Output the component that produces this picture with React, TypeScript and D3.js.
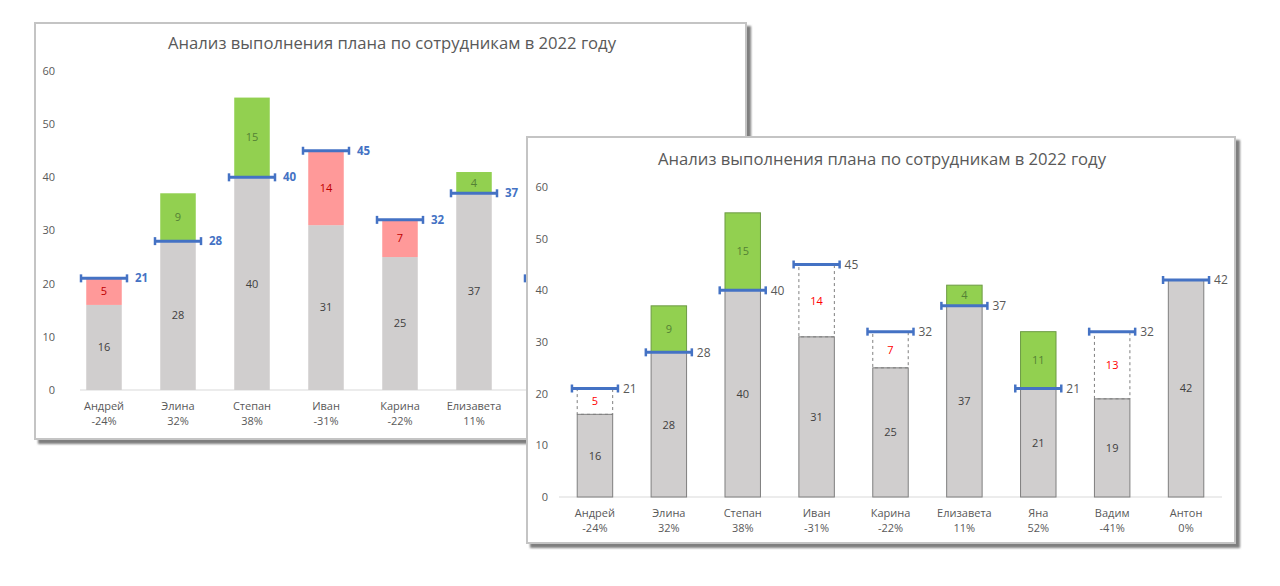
import React from 'react';
import * as d3 from 'd3';

const names = ['Андрей', 'Элина', 'Степан', 'Иван', 'Карина', 'Елизавета', 'Яна', 'Вадим', 'Антон'];
const fact = [16, 37, 55, 31, 25, 41, 32, 19, 42];
const plan = [21, 28, 40, 45, 32, 37, 21, 32, 42];
const yTicks = [0, 10, 20, 30, 40, 50, 60];
const title = 'Анализ выполнения плана по сотрудникам в 2022 году';

const FONT = "'Open Sans', 'Noto Sans', sans-serif";

interface PanelCfg {
  x: number;
  y: number;
  w: number;
  h: number;
  titleX: number;
  titleY: number;
  titleW: number;
  tickX: number;
  y0: number;
  y60: number;
  xLeft: number;
  xRight: number;
  axisX0: number;
  axisX1: number;
  catY: number;
  front: boolean;
  // texts starting right of this are covered by the other panel, skip them
  textLimit: number;
}

const rows = names.map((n, i) => ({
  name: n,
  fact: fact[i],
  plan: plan[i],
  pct: Math.round(((fact[i] - plan[i]) / plan[i]) * 100)
}));

const Panel: React.FC<{ c: PanelCfg }> = ({ c }) => {
  const y = d3.scaleLinear().domain([0, 60]).range([c.y0, c.y60]);
  const x = d3
    .scaleBand<string>()
    .domain(names)
    .range([c.xLeft, c.xRight])
    .paddingInner(0.52)
    .paddingOuter(0.26);
  const bw = x.bandwidth();
  const half = 23;

  return (
    <g>
      {/* panel box with shadow */}
      <rect
        x={c.x}
        y={c.y}
        width={c.w}
        height={c.h}
        fill="#ffffff"
        stroke="#c4c4c4"
        strokeWidth={2}
        filter="url(#shadow)"
      />
      <text
        x={c.titleX}
        y={c.titleY}
        textAnchor="middle"
        fontSize={17}
        fill="#595959"
        textLength={c.titleW}
        lengthAdjust="spacingAndGlyphs"
      >
        {title}
      </text>

      {/* y ticks */}
      {yTicks.map(t => (
        <text
          key={t}
          x={c.tickX}
          y={y(t)}
          dy="0.35em"
          textAnchor="end"
          fontSize={11}
          fill="#595959"
        >
          {t}
        </text>
      ))}

      {/* baseline */}
      <line x1={c.axisX0} x2={c.axisX1} y1={c.y0} y2={c.y0} stroke="#d9d9d9" strokeWidth={1} />

      {rows.map(d => {
        const cx = (x(d.name) as number) + bw / 2;
        const x0 = x(d.name) as number;
        const base = Math.min(d.fact, d.plan);
        const over = d.fact > d.plan;
        const under = d.fact < d.plan;
        const showText = cx < c.textLimit;
        const planX = cx + half + (c.front ? 5 : 8);
        return (
          <g key={d.name}>
            <rect
              x={x0}
              y={y(base)}
              width={bw}
              height={y(0) - y(base)}
              fill="#d0cece"
              stroke={c.front ? '#7f7f7f' : 'none'}
              strokeWidth={1}
            />
            {over && (
              <rect
                x={x0}
                y={y(d.fact)}
                width={bw}
                height={y(d.plan) - y(d.fact)}
                fill="#92d050"
                stroke={c.front ? '#6d9a45' : 'none'}
                strokeWidth={1}
              />
            )}
            {under &&
              (c.front ? (
                <rect
                  x={x0}
                  y={y(d.plan)}
                  width={bw}
                  height={y(d.fact) - y(d.plan)}
                  fill="none"
                  stroke="#7f7f7f"
                  strokeWidth={1}
                  strokeDasharray="3,3"
                />
              ) : (
                <rect
                  x={x0}
                  y={y(d.plan)}
                  width={bw}
                  height={y(d.fact) - y(d.plan)}
                  fill="#ff9999"
                />
              ))}

            {showText && (
              <text
                x={cx}
                y={y(base / 2)}
                dy="0.35em"
                textAnchor="middle"
                fontSize={11}
                fill="#404040"
              >
                {base}
              </text>
            )}

            {showText && d.fact !== d.plan && (
              <text
                x={cx}
                y={y((d.fact + d.plan) / 2)}
                dy="0.35em"
                textAnchor="middle"
                fontSize={11}
                fill={over ? '#548235' : c.front ? '#ff0000' : '#c00000'}
              >
                {Math.abs(d.fact - d.plan)}
              </text>
            )}

            {/* plan marker */}
            <line
              x1={cx - half}
              x2={cx + half}
              y1={y(d.plan)}
              y2={y(d.plan)}
              stroke="#4472c4"
              strokeWidth={3}
            />
            <line x1={cx - half} x2={cx - half} y1={y(d.plan) - 4} y2={y(d.plan) + 4} stroke="#4472c4" strokeWidth={2.5} />
            <line x1={cx + half} x2={cx + half} y1={y(d.plan) - 4} y2={y(d.plan) + 4} stroke="#4472c4" strokeWidth={2.5} />
            {planX < c.textLimit && (
              <text
                x={planX}
                y={y(d.plan)}
                dy="0.35em"
                fontSize={c.front ? 12 : 11.5}
                fontWeight={c.front ? 400 : 700}
                fill={c.front ? '#595959' : '#4472c4'}
              >
                {d.plan}
              </text>
            )}

            {showText && (
              <>
                <text x={cx} y={c.catY} textAnchor="middle" fontSize={11} fill="#595959">
                  {d.name}
                </text>
                <text x={cx} y={c.catY + 15} textAnchor="middle" fontSize={11} fill="#595959">
                  {`${d.pct}%`}
                </text>
              </>
            )}
          </g>
        );
      })}
    </g>
  );
};

const back: PanelCfg = {
  x: 35, y: 23, w: 711, h: 416,
  titleX: 392, titleY: 49, titleW: 448,
  tickX: 55, y0: 390, y60: 71,
  xLeft: 67, xRight: 733,
  axisX0: 80, axisX1: 780,
  catY: 410, front: false,
  textLimit: 527
};

const front: PanelCfg = {
  x: 527, y: 137, w: 708, h: 406,
  titleX: 882, titleY: 165, titleW: 448,
  tickX: 548, y0: 497, y60: 187,
  xLeft: 558, xRight: 1223,
  axisX0: 559, axisX1: 1222,
  catY: 517, front: true,
  textLimit: 1280
};

export default function App() {
  return (
    <svg
      width={1280}
      height={586}
      style={{ position: 'absolute', left: 0, top: 0, background: '#ffffff', fontFamily: FONT }}
    >
      <defs>
        <filter id="shadow" x="-5%" y="-5%" width="115%" height="115%">
          <feDropShadow dx={4} dy={4} stdDeviation={1.3} floodColor="#6f6f6f" floodOpacity={0.9} />
        </filter>
      </defs>
      <Panel c={back} />
      <Panel c={front} />
    </svg>
  );
}
